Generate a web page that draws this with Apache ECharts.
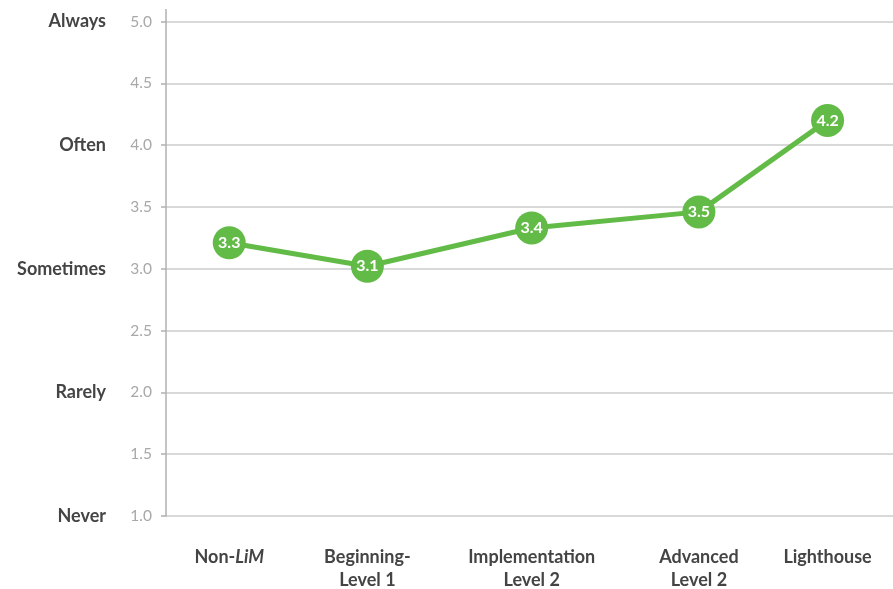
<!DOCTYPE html>
<html><head><meta charset="utf-8">
<script src="https://cdn.jsdelivr.net/npm/echarts@6/dist/echarts.min.js"></script>
<style>html,body{margin:0;padding:0;background:#fff}#c{width:893px;height:589px}</style>
</head><body><div id="c"></div>
<script>
const categories = ["Non-LiM", "Beginning-\nLevel 1", "Implementation\nLevel 2", "Advanced\nLevel 2", "Lighthouse"];
const xPositions = [0.87, 2.77, 5.03, 7.33, 9.10];
const values = [3.21, 3.02, 3.33, 3.46, 4.20];
const pointLabels = ["3.3", "3.1", "3.4", "3.5", "4.2"];
const yTicks = [1, 1.5, 2, 2.5, 3, 3.5, 4, 4.5, 5];
const yNames = {1: "Never", 2: "Rarely", 3: "Sometimes", 4: "Often", 5: "Always"};

const FONT = "Lato, 'Open Sans', sans-serif";
const chart = echarts.init(document.getElementById('c'), null, {renderer: 'canvas'});
chart.setOption({
  animation: false,
  backgroundColor: '#fff',
  grid: {left: 166, right: 0, top: 21.5, bottom: 73, containLabel: false, outerBoundsMode: 'none'},
  xAxis: {
    type: 'value', min: 0, max: 10,
    splitLine: {show: false},
    axisLine: {show: false},
    axisTick: {show: false},
    axisLabel: {
      customValues: xPositions,
      margin: 30,
      fontFamily: FONT, fontSize: 18, fontWeight: 'bold', color: '#444',
      lineHeight: 23,
      formatter: function (v) {
        let i = xPositions.indexOf(v);
        if (i < 0) { let best = 0; xPositions.forEach((p, k) => { if (Math.abs(p - v) < Math.abs(xPositions[best] - v)) best = k; }); i = best; }
        if (i === 0) return '{n|Non-}{it|LiM}';
        return categories[i];
      },
      rich: {
        n: {fontFamily: FONT, fontSize: 18, fontWeight: 'bold', color: '#444'},
        it: {fontFamily: FONT, fontSize: 18, fontWeight: 'bold', fontStyle: 'italic', color: '#444'}
      }
    }
  },
  yAxis: {
    type: 'value', min: 1, max: 5, interval: 0.5,
    axisLine: {show: true, lineStyle: {color: '#b0b0b0', width: 1.5}},
    axisTick: {show: true, length: 5, lineStyle: {color: '#b0b0b0', width: 1.5}},
    splitLine: {show: true, lineStyle: {color: '#cccccc', width: 1.5}},
    axisLabel: {
      margin: 14,
      formatter: function (v) {
        const name = yNames[v] || '';
        return '{a|' + name + '}{b|' + v.toFixed(1) + '}';
      },
      rich: {
        a: {fontFamily: FONT, fontSize: 18, fontWeight: 'bold', color: '#444', align: 'right'},
        b: {fontFamily: FONT, fontSize: 15.5, color: '#a8a8a8', width: 46, align: 'right'}
      }
    }
  },
  graphic: [{
    type: 'line', z: 10,
    shape: {x1: 166, y1: 9, x2: 166, y2: 22},
    style: {stroke: '#b0b0b0', lineWidth: 1.5}
  }],
  series: [{
    type: 'line',
    data: xPositions.map((x, i) => [x, values[i]]),
    lineStyle: {color: '#62BB46', width: 5},
    itemStyle: {color: '#62BB46', borderWidth: 0},
    symbol: 'circle', symbolSize: 33,
    label: {
      show: true, position: 'inside',
      fontFamily: FONT, fontSize: 16, fontWeight: 'bold', color: '#fff',
      formatter: p => pointLabels[p.dataIndex]
    }
  }]
});
</script></body></html>
